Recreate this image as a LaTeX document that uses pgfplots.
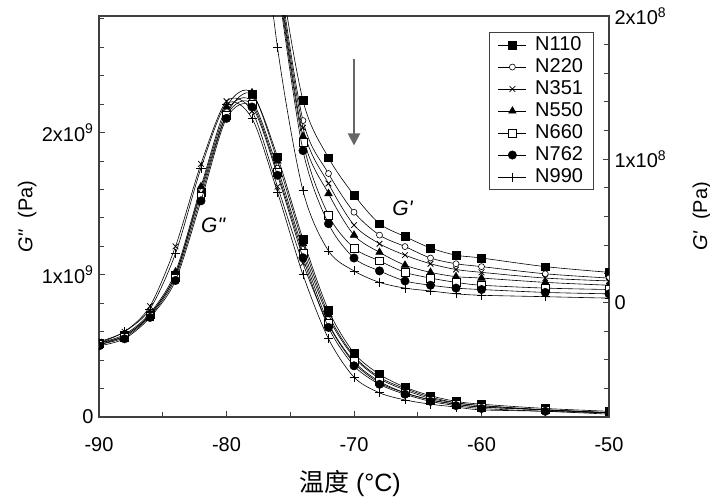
\documentclass[border=0pt]{standalone}
\usepackage{pgfplots}
\pgfplotsset{compat=1.18}
\usepackage{pgfplotstable}
\usepackage{fontspec}
\setmainfont{Liberation Sans}[Ligatures=TeXOff]
\newfontfamily\cjk{Noto Sans CJK SC}
\usetikzlibrary{arrows.meta}

% G'' (loss modulus), units of 1e9 Pa
\pgfplotstableread{
T    N110 N220 N351 N550 N660 N762 N990
-90  0.52 0.51 0.53 0.52 0.51 0.50 0.52
-88  0.57 0.57 0.60 0.58 0.56 0.55 0.60
-86  0.72 0.72 0.78 0.73 0.71 0.70 0.76
-84  1.00 1.00 1.20 1.02 0.98 0.96 1.15
-82  1.58 1.60 1.78 1.62 1.55 1.52 1.75
-80  2.13 2.15 2.22 2.18 2.12 2.10 2.20
-78  2.27 2.22 2.15 2.28 2.20 2.18 2.10
-76  1.83 1.75 1.62 1.80 1.72 1.70 1.58
-74  1.25 1.18 1.08 1.22 1.15 1.12 1.00
-72  0.75 0.70 0.65 0.72 0.66 0.63 0.55
-70  0.45 0.42 0.38 0.43 0.39 0.36 0.28
-68  0.30 0.27 0.24 0.28 0.25 0.23 0.17
-66  0.21 0.19 0.17 0.20 0.17 0.16 0.12
-64  0.15 0.13 0.12 0.14 0.12 0.11 0.09
-62  0.11 0.10 0.09 0.10 0.09 0.08 0.07
-60  0.09 0.08 0.07 0.08 0.07 0.06 0.05
-55  0.06 0.05 0.05 0.05 0.05 0.04 0.04
-50  0.04 0.03 0.03 0.03 0.03 0.03 0.02
}\gpp

% G' (storage modulus), units of 1e8 Pa
\pgfplotstableread{
T    N110 N220 N351 N550 N660 N762 N990
-78  4.00 3.80 3.70 3.60 3.50 3.40 3.30
-76  2.45 2.38 2.33 2.30 2.26 2.22 1.78
-74  1.41 1.27 1.22 1.16 1.12 1.06 0.78
-72  1.01 0.90 0.83 0.76 0.61 0.55 0.36
-70  0.75 0.63 0.54 0.47 0.38 0.31 0.22
-68  0.55 0.47 0.41 0.35 0.29 0.22 0.14
-66  0.46 0.39 0.33 0.26 0.21 0.15 0.10
-64  0.38 0.31 0.27 0.21 0.17 0.12 0.08
-62  0.33 0.27 0.23 0.18 0.14 0.10 0.06
-60  0.31 0.25 0.21 0.17 0.12 0.09 0.05
-55  0.25 0.20 0.17 0.14 0.10 0.07 0.04
-50  0.21 0.17 0.15 0.12 0.09 0.06 0.03
}\gp

\pgfplotsset{
  base/.style={black, line width=0.6pt, smooth},
  s1/.style={base, mark=square*, mark size=3.8pt, mark options={solid, fill=black, line width=0.5pt}},
  s2/.style={base, mark=*, mark size=3pt, mark options={solid, fill=white, line width=0.6pt}},
  s3/.style={base, mark=x, mark size=4pt, mark options={solid, line width=0.8pt}},
  s4/.style={base, mark=triangle*, mark size=4.4pt, mark options={solid, fill=black, line width=0.5pt}},
  s5/.style={base, mark=square*, mark size=3.8pt, mark options={solid, fill=white, line width=0.6pt}},
  s6/.style={base, mark=*, mark size=4.2pt, mark options={solid, fill=black, line width=0.5pt}},
  s7/.style={base, mark=+, mark size=4.5pt, mark options={solid, line width=0.7pt}},
  common/.style={
    scale only axis, width=510pt, height=401pt,
    xmin=-90, xmax=-50,
    clip marker paths=true,
    tick align=inside,
    major tick length=6pt, minor tick length=5pt,
    every tick/.style={black!75, line width=1pt},
    axis line style={black!75, line width=1.2pt},
    /pgf/number format/assume math mode=true,
  },
}

\begin{document}
\begin{tikzpicture}[font=\fontsize{20}{23}\selectfont]
\begin{axis}[common, name=ax1,
  ymin=0, ymax=2.82,
  xtick={-90,-80,-70,-60,-50}, minor xtick={-85,-75,-65,-55},
  xtick pos=left, ytick pos=left,
  ytick={0,1,2}, yticklabels={0,1x10\textsuperscript{9},2x10\textsuperscript{9}},
  minor ytick={0.2,0.4,0.6,0.8,1.2,1.4,1.6,1.8,2.2,2.4,2.6,2.8},
  xticklabel style={yshift=-17pt},
  yticklabel style={xshift=-2pt},
  ylabel={\textit{G"}\ \ (Pa)},
  ylabel style={at={(axis description cs:-0.141,0.5)}, anchor=center, font=\fontsize{20}{24}\selectfont},
  xlabel={{\cjk 温度} (°C)},
  xlabel style={at={(axis description cs:0.492,-0.165)}, anchor=center, font=\fontsize{25}{28}\selectfont},
]
\addplot[s1] table[x=T, y=N110] {\gpp};
\addplot[s2] table[x=T, y=N220] {\gpp};
\addplot[s3] table[x=T, y=N351] {\gpp};
\addplot[s4] table[x=T, y=N550] {\gpp};
\addplot[s5] table[x=T, y=N660] {\gpp};
\addplot[s6] table[x=T, y=N762] {\gpp};
\addplot[s7] table[x=T, y=N990] {\gpp};
\node[font=\fontsize{21}{24}\selectfont\itshape] at (axis cs:-81.05,1.345) {G"};
\end{axis}
\begin{axis}[common,
  ymin=-0.8, ymax=2.0,
  axis x line=none, axis y line*=right,
  ytick={0,1,2}, yticklabels={0,1x10\textsuperscript{8},2x10\textsuperscript{8}},
  minor ytick={-0.8,-0.6,-0.4,-0.2,0.2,0.4,0.6,0.8,1.2,1.4,1.6,1.8},
  yticklabel style={xshift=2pt},
  ylabel={\textit{G'}\ \ (Pa)},
  ylabel style={at={(axis description cs:1.182,0.5)}, anchor=center, font=\fontsize{20}{24}\selectfont},
  legend style={at={(axis description cs:0.9706,0.960)}, anchor=north east,
    draw=black!75, line width=1pt, fill=white,
    font=\fontsize{20}{22}\selectfont,
    nodes={inner sep=1.5pt, text height=14pt, text depth=4pt},
    row sep=1pt, inner xsep=9pt, inner ysep=2pt,
    /tikz/every odd column/.append style={column sep=7pt}},
  legend cell align=left,
  legend image code/.code={\draw[mark repeat=2, mark phase=2, #1] plot coordinates {(0pt,0pt) (14pt,0pt) (28pt,0pt)};},
]
\addplot[s1] table[x=T, y=N110] {\gp}; \addlegendentry{N110}
\addplot[s2] table[x=T, y=N220] {\gp}; \addlegendentry{N220}
\addplot[s3] table[x=T, y=N351] {\gp}; \addlegendentry{N351}
\addplot[s4] table[x=T, y=N550] {\gp}; \addlegendentry{N550}
\addplot[s5] table[x=T, y=N660] {\gp}; \addlegendentry{N660}
\addplot[s6] table[x=T, y=N762] {\gp}; \addlegendentry{N762}
\addplot[s7] table[x=T, y=N990] {\gp}; \addlegendentry{N990}
\node[font=\fontsize{21}{24}\selectfont\itshape] at (axis cs:-66.2,0.66) {G'};
\draw[black!60, line width=2pt, -{Triangle[width=12pt,length=12pt]}] (axis cs:-70,1.697) -- (axis cs:-70,1.096);
\end{axis}
\pgfresetboundingbox
\path[use as bounding box] ([shift={(-99pt,-80pt)}]ax1.south west) rectangle ([shift={(611pt,417pt)}]ax1.south west);
\end{tikzpicture}
\end{document}
